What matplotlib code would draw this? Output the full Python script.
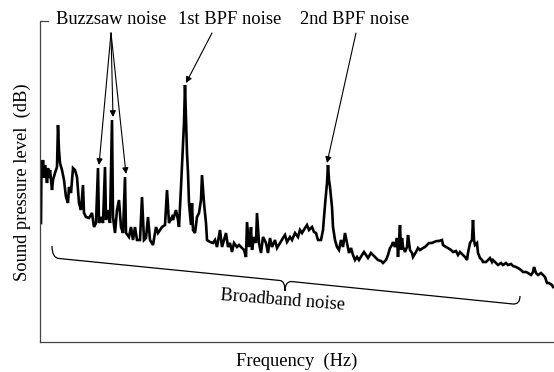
import matplotlib
matplotlib.use("Agg")
import matplotlib.pyplot as plt
from matplotlib.path import Path
from matplotlib.patches import PathPatch
import numpy as np

# Spectrum samples (frequency index, relative sound pressure level)
freq = [1, 1.5, 2, 3, 4, 5, 6, 7, 8, 9, 10, 11, 12, 13, 15, 17, 18, 19, 20, 22, 24, 26, 28, 29, 31, 33, 35, 37, 39, 41,
        43, 44, 46, 49, 52, 54, 56, 58, 59, 61, 63, 65, 66, 68, 70, 72, 73, 75, 77, 79, 81, 83, 85, 86, 89, 91, 93, 95,
        97, 100, 102, 104, 106, 108, 110, 113, 116, 118, 122, 125, 127, 129, 132, 133, 136, 138, 139, 141, 143, 144,
        145, 146, 147, 148, 149, 151, 152, 153, 155, 157, 159, 161, 162, 164, 166, 167, 170, 173, 175, 177, 180, 182,
        184, 186, 188, 190, 192, 194, 197, 199, 202, 204, 206, 207, 209, 210, 211, 212, 214, 216, 217, 219, 221, 223,
        226, 228, 230, 232, 235, 237, 240, 243, 245, 247, 250, 252, 255, 258, 260, 262, 265, 267, 269, 272, 274, 276,
        278, 281, 283, 285, 287, 288, 289, 290, 292, 293, 295, 297, 299, 301, 303, 305, 307, 309, 311, 313, 315, 317,
        319, 322, 324, 326, 328, 331, 333, 336, 338, 341, 343, 346, 348, 350, 352, 353, 355, 357, 358, 360, 361, 362,
        363, 365, 367, 368, 370, 372, 373, 376, 378, 380, 383, 385, 387, 389, 392, 394, 397, 399, 402, 403, 406, 408,
        411, 413, 416, 418, 420, 423, 425, 427, 428, 430, 432, 433, 434, 435, 437, 438, 440, 442, 443, 446, 448, 450,
        452, 453, 456, 458, 461, 463, 466, 468, 471, 473, 476, 478, 481, 483, 486, 488, 491, 493, 494, 496, 498, 501,
        503, 505, 507, 509, 512, 513]
level = [119, 182, 167, 182, 164, 177, 170, 159, 174, 164, 172, 162, 152, 162, 169, 175, 217, 192, 179, 172, 162, 145,
         139, 155, 149, 174, 172, 165, 139, 132, 157, 129, 125, 124, 129, 115, 119, 174, 119, 125, 119, 175, 122, 132,
         119, 222, 125, 109, 132, 142, 115, 109, 165, 109, 105, 115, 102, 115, 102, 102, 145, 102, 104, 125, 102, 97,
         115, 109, 115, 117, 152, 119, 125, 122, 132, 122, 115, 155, 199, 219, 257, 222, 189, 169, 139, 117, 139, 112,
         109, 125, 129, 142, 167, 139, 119, 102, 100, 99, 102, 95, 112, 95, 102, 109, 95, 99, 90, 99, 95, 97, 94, 92,
         85, 120, 95, 102, 115, 92, 105, 99, 129, 99, 89, 105, 99, 89, 104, 95, 102, 94, 99, 104, 107, 100, 105, 102,
         109, 105, 112, 109, 114, 117, 112, 115, 110, 109, 102, 102, 112, 137, 159, 177, 162, 155, 135, 115, 102, 95,
         92, 102, 95, 109, 99, 89, 94, 87, 82, 85, 82, 87, 90, 87, 84, 89, 87, 84, 82, 81, 79, 82, 87, 94, 97, 100, 95,
         104, 85, 117, 92, 104, 95, 90, 95, 107, 92, 89, 85, 90, 94, 92, 94, 95, 97, 99, 99, 100, 101, 101, 102, 97,
         95, 94, 92, 90, 91, 87, 90, 87, 85, 82, 89, 99, 102, 122, 102, 97, 99, 89, 84, 82, 80, 80, 82, 84, 80, 82, 79,
         77, 79, 77, 79, 77, 78, 76, 75, 74, 72, 70, 70, 69, 67, 70, 75, 69, 67, 69, 67, 65, 59, 59, 57, 55]

buzzsaw_freqs = [58, 72, 85]
bpf1_freq = 145
bpf2_freq = 288

labels = {
    "buzzsaw": "Buzzsaw noise",
    "bpf1": "1st BPF noise",
    "bpf2": "2nd BPF noise",
    "broadband": "Broadband noise",
    "xlabel": "Frequency  (Hz)",
    "ylabel": "Sound pressure level  (dB)",
}

plt.rcParams["font.family"] = ["Liberation Serif", "DejaVu Serif"]
FS = 13.3

W, H = 554, 372
fig = plt.figure(figsize=(W / 100, H / 100), dpi=100)
ax = fig.add_axes([40 / W, 30 / H, 514 / W, 320 / H])
ax.set_xlim(0, 514)
ax.set_ylim(0, 320)

ax.plot(freq, level, color="black", lw=1.9, solid_joinstyle="miter")

for side in ("top", "right"):
    ax.spines[side].set_visible(False)
for side in ("left", "bottom"):
    ax.spines[side].set_color("#444444")
    ax.spines[side].set_linewidth(0.9)
ax.set_xticks([])
ax.set_yticks([])
# small cap on top of the level axis
ax.plot([0, 8], [321, 321], color="#444444", lw=0.9, clip_on=False)

def level_at(f):
    return level[freq.index(f)]

arrow_kw = dict(arrowstyle="-|>", lw=0.8, color="black", mutation_scale=9,
                shrinkA=0, shrinkB=0)

# top annotation texts
ax.text(71, 322, labels["buzzsaw"], ha="center", va="center", fontsize=FS, clip_on=False)
ax.text(190, 322, labels["bpf1"], ha="center", va="center", fontsize=FS, clip_on=False)
ax.text(315, 322, labels["bpf2"], ha="center", va="center", fontsize=FS, clip_on=False)

for f in buzzsaw_freqs:
    ax.annotate("", xy=(f + 1, level_at(f) + 3), xytext=(71, 309),
                arrowprops=arrow_kw, annotation_clip=False)
ax.annotate("", xy=(bpf1_freq + 1, level_at(bpf1_freq) + 2), xytext=(172, 309),
            arrowprops=arrow_kw, annotation_clip=False)
ax.annotate("", xy=(bpf2_freq - 1, level_at(bpf2_freq) + 2), xytext=(316, 309),
            arrowprops=arrow_kw, annotation_clip=False)

# curly brace spanning the broadband floor
verts = [(12, 96), (12, 84), (19, 83.5),
         (240, 61.5),
         (245, 61), (245, 51),
         (245, 51), (245, 60), (251, 60.5),
         (473, 38), (480, 37.5), (480, 46)]
codes = [Path.MOVETO, Path.CURVE3, Path.CURVE3,
         Path.LINETO,
         Path.CURVE3, Path.CURVE3,
         Path.MOVETO, Path.CURVE3, Path.CURVE3,
         Path.LINETO, Path.CURVE3, Path.CURVE3]
ax.add_patch(PathPatch(Path(verts, codes), fill=False, lw=0.9, edgecolor="black", clip_on=False))
ax.text(243, 42, labels["broadband"], ha="center", va="center", fontsize=FS,
        rotation=-4.5, rotation_mode="anchor")

fig.text(297 / W, 1 - 361 / H, labels["xlabel"], ha="center", va="center", fontsize=FS)
fig.text(22 / W, 1 - 182 / H, labels["ylabel"], ha="center", va="center", fontsize=FS, rotation=90)

fig.savefig("out.png", dpi=100)
